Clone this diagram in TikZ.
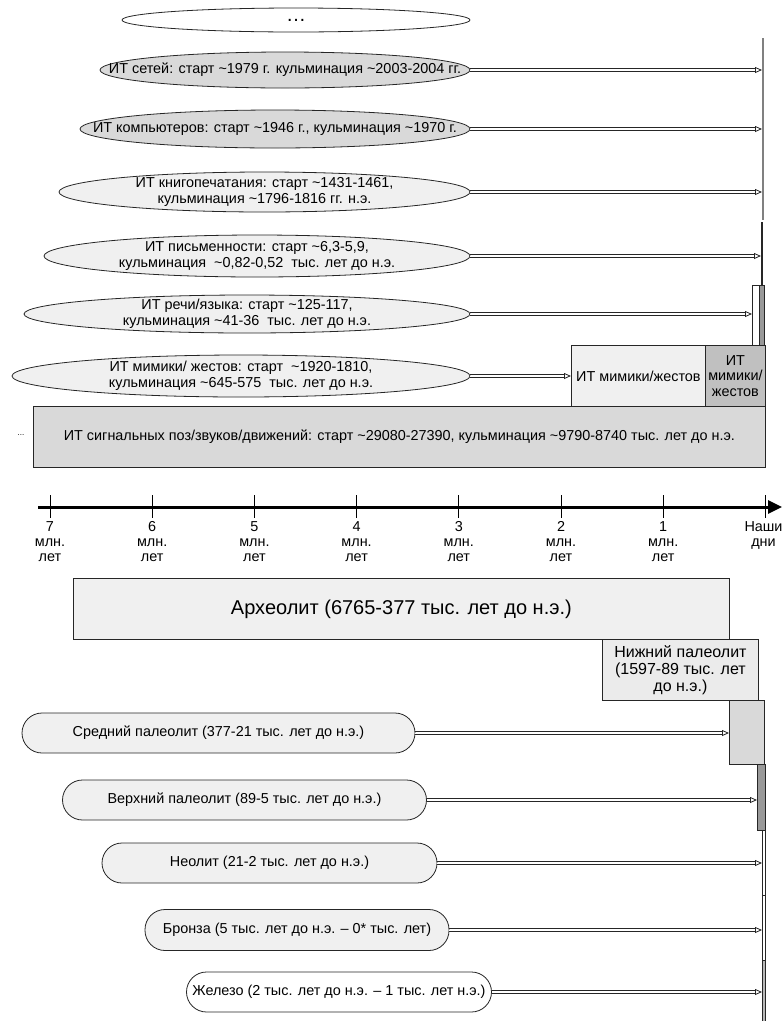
\documentclass[tikz,border=0pt]{standalone}
\usepackage{fontspec}
\setmainfont{Liberation Sans}
\usetikzlibrary{shapes.geometric,arrows.meta}
\definecolor{lightfill}{HTML}{F0F0F0}
\definecolor{nizfill}{HTML}{EBEBEB}
\definecolor{midfill}{HTML}{D9D9D9}
\definecolor{darkfill}{HTML}{C0C0C0}
\definecolor{barfill}{HTML}{999999}
\definecolor{edge}{HTML}{262626}
\newcommand{\tld}{\textasciitilde}
\tikzset{
  txt/.style={font=\fontsize{14.4}{15.5}\selectfont, align=center},
  ell/.style={ellipse, draw=edge, line width=0.8pt, inner sep=0pt},
  ellbl/.style={txt, inner sep=0pt},
  rbox/.style={rectangle, draw=edge, line width=0.8pt, inner sep=0pt, anchor=north west},
  thinbar/.style={rectangle, draw=none, inner sep=0pt, anchor=north west},
  pill/.style={rectangle, rounded corners=20pt, draw=edge, line width=0.8pt, fill=lightfill, inner sep=0pt, txt},
  conn/.style={draw=none,
    postaction={draw=edge, line width=0.8pt, shorten >=7pt, transform canvas={yshift=1.5pt}},
    postaction={draw=edge, line width=0.8pt, shorten >=7pt, transform canvas={yshift=-1.5pt}},
    postaction={draw=white, line width=0.5pt,
      -{Triangle[open, length=7pt, width=6pt, line width=0.8pt, color=edge]}}},
  ticklbl/.style={txt, anchor=north, inner sep=0pt, font=\fontsize{14.4}{15}\selectfont}
}
\begin{document}
\begin{tikzpicture}[x=1pt,y=-1pt]
\useasboundingbox (0,0) rectangle (782,1021);
% ---------- right-hand bars (IT periods) ----------
\node[thinbar, fill=gray, minimum width=1.6pt, minimum height=182pt] (barA) at (762,38) {};
\node[thinbar, fill=edge, minimum width=1.3pt, minimum height=63pt] (barB) at (761,222) {};
\node[rbox, fill=white, minimum width=7pt, minimum height=60pt] (barC) at (752,285) {};
\node[rbox, fill=barfill, minimum width=5pt, minimum height=60pt] (barD) at (759,285) {};
\node[rbox, fill=lightfill, minimum width=134pt, minimum height=61pt, txt] (mim1) at (571,345) {ИТ мимики/жестов};
\node[rbox, fill=darkfill, minimum width=60pt, minimum height=61pt, txt] (mim2) at (705,345) {ИТ\\мимики/\\жестов};
\node[rbox, fill=midfill, minimum width=732pt, minimum height=61pt, txt] (big) at (33,406)
  {ИТ сигнальных поз/звуков/движений: старт \tld29080-27390, кульминация \tld9790-8740 тыс. лет до н.э.};
\node[font=\fontsize{8}{9}\selectfont, inner sep=0pt] (dots) at (21,435) {...};
% ---------- ellipses ----------
\node[ell, fill=white, minimum width=348pt, minimum height=24pt,
  label={[font=\fontsize{20}{20}\selectfont, inner sep=0pt]center:…}] (e0) at (296,20) {};
\node[ell, fill=midfill, minimum width=370pt, minimum height=36pt,
  label={[ellbl]center:ИТ сетей: старт \tld1979 г. кульминация \tld2003-2004 гг.}] (e1) at (285,70) {};
\node[ell, fill=midfill, minimum width=390pt, minimum height=38pt,
  label={[ellbl]center:ИТ компьютеров: старт \tld1946 г., кульминация \tld1970 г.}] (e2) at (275,129) {};
\node[ell, fill=lightfill, minimum width=411pt, minimum height=40pt,
  label={[ellbl]center:ИТ книгопечатания: старт \tld1431-1461,\\кульминация \tld1796-1816 гг. н.э.}] (e3) at (264.5,192) {};
\node[ell, fill=lightfill, minimum width=426pt, minimum height=42pt,
  label={[ellbl]center:ИТ письменности: старт \tld6,3-5,9,\\кульминация\ \ \tld0,82-0,52\ \ тыс. лет до н.э.}] (e4) at (257,256) {};
\node[ell, fill=lightfill, minimum width=446pt, minimum height=38pt,
  label={[ellbl]center:ИТ речи/языка: старт \tld125-117,\\кульминация \tld41-36\ \ тыс. лет до н.э.}] (e5) at (247,314) {};
\node[ell, fill=lightfill, minimum width=458pt, minimum height=42pt,
  label={[ellbl]center:ИТ мимики/ жестов: старт\ \ \tld1920-1810,\\кульминация \tld645-575\ \ тыс. лет до н.э.}] (e6) at (241,376) {};
% connectors (upper)
\draw[conn] (e1.east) -- (e1.east -| barA.west);
\draw[conn] (e2.east) -- (e2.east -| barA.west);
\draw[conn] (e3.east) -- (e3.east -| barA.west);
\draw[conn] (e4.east) -- (e4.east -| barB.west);
\draw[conn] (e5.east) -- (e5.east -| barC.west);
\draw[conn] (e6.east) -- (e6.east -| mim1.west);
% ---------- axis ----------
\coordinate (axL) at (38,507);
\coordinate (axR) at (782,507);
\draw[line width=3pt, -{Triangle[length=14pt, width=13pt]}] (axL) -- (axR);
\foreach \i/\lab in {0/7,1/6,2/5,3/4,4/3,5/2,6/1}{
  \draw[line width=0.9pt] (50+102.2*\i,495) -- (50+102.2*\i,518);
  \node[ticklbl] (lab\lab) at (50+102.2*\i,521) {\lab\\млн.\\лет};
}
\draw[line width=0.9pt] (765,495) -- (765,518);
\node[ticklbl] (labnow) at (763.5,521) {Наши\\дни};
% ---------- lower periods ----------
\node[rbox, fill=lightfill, minimum width=656pt, minimum height=61pt, font=\fontsize{20}{22}\selectfont] (arch) at (73,578)
  {Археолит (6765-377 тыс. лет до н.э.)};
\node[rbox, fill=nizfill, minimum width=156pt, minimum height=61pt, align=center, font=\fontsize{16}{17}\selectfont] (niz) at (602,639)
  {Нижний палеолит\\(1597-89 тыс. лет\\до н.э.)};
\node[rbox, fill=midfill, minimum width=35pt, minimum height=64pt] (sred) at (729,700) {};
\node[rbox, fill=barfill, minimum width=8pt, minimum height=66pt] (verh) at (757,764) {};
\node[rbox, fill=white, minimum width=3pt, minimum height=65pt] (neol) at (762,830) {};
\node[rbox, fill=white, minimum width=3pt, minimum height=65pt] (bronz) at (762,895) {};
\node[rbox, fill=barfill!70, minimum width=3pt, minimum height=61pt] (zhel) at (762,960) {};
% pills
\node[pill, minimum width=393pt, minimum height=40pt] (p1) at (218.5,733) {Средний палеолит (377-21 тыс. лет до н.э.)};
\node[pill, minimum width=364pt, minimum height=40pt] (p2) at (244.5,800) {Верхний палеолит (89-5 тыс. лет до н.э.)};
\node[pill, minimum width=335pt, minimum height=40pt] (p3) at (269.5,863) {Неолит (21-2 тыс. лет до н.э.)};
\node[pill, minimum width=304pt, minimum height=41pt] (p4) at (297,930) {Бронза (5 тыс. лет до н.э. -- 0* тыс. лет)};
\node[pill, fill=white, minimum width=305pt, minimum height=40pt] (p5) at (339,992) {Железо (2 тыс. лет до н.э. -- 1 тыс. лет н.э.)};
\draw[conn] (p1.east) -- (p1.east -| sred.west);
\draw[conn] (p2.east) -- (p2.east -| verh.west);
\draw[conn] (p3.east) -- (p3.east -| neol.west);
\draw[conn] (p4.east) -- (p4.east -| bronz.west);
\draw[conn] (p5.east) -- (p5.east -| zhel.west);
\end{tikzpicture}
\end{document}
